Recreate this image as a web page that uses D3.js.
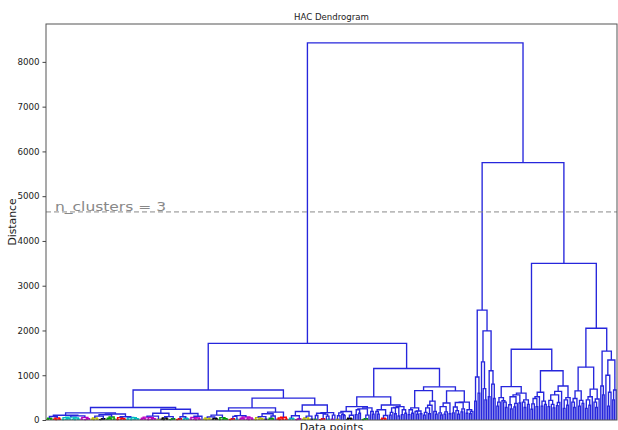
<!DOCTYPE html>
<html>
<head>
<meta charset="utf-8">
<script src="https://cdn.jsdelivr.net/npm/d3@7"></script>
<style>
  body { margin: 0; background: #fff; }
  text { font-family: "DejaVu Sans", sans-serif; }
</style>
</head>
<body>
<div id="chart"></div>
<script>
// merge heights. "x" is a data point, "(a,b)h" merges a and b at distance h
// small low clusters (below the colour threshold)
const L1 = "((x,x)14,(x,x)22)38";
const L2 = "((x,(x,x)9)20,(x,x)16)44";
const L3 = "(x,x)18";
const L4 = "(((x,x)7,x)15,x)28";
const L5 = "((x,x)11,((x,x)13,(x,x)19)30)52";
// blue bushes, middle part
const R1 = "((x,x)120,(x,x)150)230";
const R2 = "(((x,x)110,x)170,(x,x)140)270";
const R3 = "(x,(x,x)130)190";
const R4 = "((x,(x,x)115)160,((x,x)130,x)180)300";
const R5 = "(x,x)140";
const R6 = "(((x,x)160,(x,(x,x)130)210)290,((x,x)180,x)250)390";
// blue bushes, right part (higher)
const S1 = "((x,x)260,(x,x)330)450";
const S2 = "(((x,x)240,x)360,(x,x)300)480";
const S3 = "(x,(x,x)280)400";
const S4 = "((x,(x,x)250)340,((x,x)290,x)370)520";
const S5 = "(x,x)310";
const S6 = "(((x,x)300,(x,(x,x)270)350)440,((x,x)320,x)390)560";

const A1a1 = `((${L1},${L2})78,((${L5},${L2})64,(${L3},${L4})60)92)105`;
const A1a2 = `(((${L2},${L4})85,(${L1},${L3})66)118,(${L5},(${L3},${L5})55)72)135`;
const A1a3 = `(((${L1},${L5})64,${L3})88,(${L2},${L4})77)150`;
const A1a4 = `((${L4},${L1})72,((${L3},${L2})58,x)84)145`;
const A1b1 = `(((${L2},${L1})70,${L5})110,((${L4},${L3})82,(${L1},${L2})66)98)200`;
const A1b2 = `(((${L5},${L3})75,(${L1},x)90)140,(${L2},${L3})62)175`;
const A1b3 = `((${L1},${L4})95,(${L2},${L3})88)190`;
const A1b4 = `(((${L3},x)100,(${L4},(x,${L3})85)130)150,(${L3},x)110)165`;
const A2a1 = `((((${L3},x)95,(x,(x,x)100)120)160,(${L1},x)105)190,((${R1},(${L4},x)110)250,${R3})270)300`;
const A2a2 = `((${R3},(${L1},x)100)230,((${R2},(x,x)90)280,${R1})300)335`;
const A2b1 = `((${R1},(${R3},${R5})200)270,((${R2},x)330,${R3})420)655`;
const A2b2 = `((${R4},(x,x)140)380,(${R6},((x,x)150,(${R5},x)190)230)400)650`;
const B1   = `(((x,x)420,(x,x)600)960,((x,(x,(x,x)450)700)1300,((x,x)520,(x,(x,x)480)800)1100)1990)2455`;
const B2a1 = `(((${S5},x)400,(x,${S3})430)500,((${S4},(x,x)380)560,(${S3},(x,x)350)450)600)745`;
const B2a2 = `(((${S2},x)520,(${S5},(x,x)350)420)620,((${S6},x)640,(${S1},x)500)760)1100`;
const B2b1 = `(((${S3},x)480,(${S5},(x,x)370)440)650,((${S1},x)520,(${S3},x)470)690)1180`;
const B2b2 = `((x,(x,x)560)760,((x,(${S5},x)620)1000,((x,x)450,x)670)1340)1540`;

const tree = `(((((${A1a1},${A1a2})160,(${A1a3},${A1a4})240)280,` +
             `((${A1b1},${A1b2})270,(${A1b3},${A1b4})335)490)670,` +
             `((${A2a1},${A2a2})515,(${A2b1},${A2b2})740)1150)1712,` +
             `(${B1},((${B2a1},${B2a2})1580,(${B2b1},${B2b2})2050)3500)5750)8425`;

const yTicks = [0, 1000, 2000, 3000, 4000, 5000, 6000, 7000, 8000];
const colorThreshold = 70;
const palette = ["#00a000", "#ff0000", "#00bfbf", "#bf00bf", "#bfbf00", "#000000"];
const aboveColor = "#2626dc";
const cutHeight = 4648;
const cutLabel = "n_clusters = 3";

const W = 618, H = 430;
const margin = {top: 24, right: 1, bottom: 10, left: 46};

function parse(s) {
    let i = 0;
    function node() {
        if (s[i] === "x") { i++; return {h: 0, leaf: true}; }
        i++;                     // (
        const a = node(); i++;   // ,
        const b = node(); i++;   // )
        const m = /^[\d.]+/.exec(s.slice(i));
        i += m[0].length;
        return {h: +m[0], children: [a, b]};
    }
    return node();
}

const root = parse(tree.replace(/\s/g, ""));

// scipy style: leaves at 5, 15, 25 ... and a merge sits at the mean of its children
let nLeaves = 0;
(function place(d) {
    if (d.leaf) { d.x = 10 * nLeaves + 5; nLeaves++; return; }
    d.children.forEach(place);
    d.x = d3.mean(d.children, c => c.x);
})(root);

let k = 0;
(function paint(d, c) {
    if (d.leaf) return;
    if (!c && d.h < colorThreshold) c = palette[k++ % palette.length];
    d.color = c || aboveColor;
    d.children.forEach(ch => paint(ch, c));
})(root, null);

const links = [];
(function collect(d) {
    if (d.leaf) return;
    d.children.forEach(collect);
    links.push(d);
})(root);

const x = d3.scaleLinear().domain([0, 10 * nLeaves]).range([margin.left, W - margin.right]);
const y = d3.scaleLinear().domain([0, root.h * 1.05]).range([H - margin.bottom, margin.top]);

const svg = d3.select("#chart").append("svg")
    .attr("width", W)
    .attr("height", H);

svg.append("g")
    .selectAll("path")
    .data(links)
    .join("path")
    .attr("fill", "none")
    .attr("stroke", d => d.color)
    .attr("stroke-width", 1.35)
    .attr("d", d => {
        const [a, b] = d.children;
        return `M${x(a.x)},${y(a.h)}V${y(d.h)}H${x(b.x)}V${y(b.h)}`;
    });

// cut line
svg.append("line")
    .attr("x1", x.range()[0]).attr("x2", x.range()[1])
    .attr("y1", y(cutHeight)).attr("y2", y(cutHeight))
    .attr("stroke", "#8a8a8a")
    .attr("stroke-width", 1)
    .attr("stroke-dasharray", "5,3");

svg.append("text")
    .attr("x", 55)
    .attr("y", y(cutHeight) - 1)
    .attr("fill", "#888")
    .attr("font-size", 12)
    .attr("textLength", 111)
    .attr("lengthAdjust", "spacingAndGlyphs")
    .text(cutLabel);

// frame
svg.append("rect")
    .attr("x", margin.left).attr("y", margin.top)
    .attr("width", W - margin.right - margin.left)
    .attr("height", H - margin.bottom - margin.top)
    .attr("fill", "none")
    .attr("stroke", "#555")
    .attr("stroke-width", 1);

const yAxis = svg.append("g")
    .attr("transform", `translate(${margin.left},0)`)
    .call(d3.axisLeft(y).tickValues(yTicks).tickSize(3.5).tickPadding(3).tickFormat(d3.format("d")));
yAxis.select(".domain").remove();
yAxis.selectAll("line").attr("stroke", "#444");
yAxis.selectAll("text").attr("font-size", 8.7).attr("fill", "#222")
    .style("font-family", "DejaVu Sans");

svg.append("text")
    .attr("x", (margin.left + W - margin.right) / 2)
    .attr("y", 19.5)
    .attr("text-anchor", "middle")
    .attr("font-size", 8.6)
    .attr("fill", "#222")
    .text("HAC Dendrogram");

svg.append("text")
    .attr("x", (margin.left + W - margin.right) / 2)
    .attr("y", 431)
    .attr("text-anchor", "middle")
    .attr("font-size", 11)
    .attr("fill", "#222")
    .text("Data points");

svg.append("text")
    .attr("transform", `translate(16,${(margin.top + H - margin.bottom) / 2}) rotate(-90)`)
    .attr("text-anchor", "middle")
    .attr("font-size", 10.8)
    .attr("fill", "#222")
    .text("Distance");
</script>
</body>
</html>
